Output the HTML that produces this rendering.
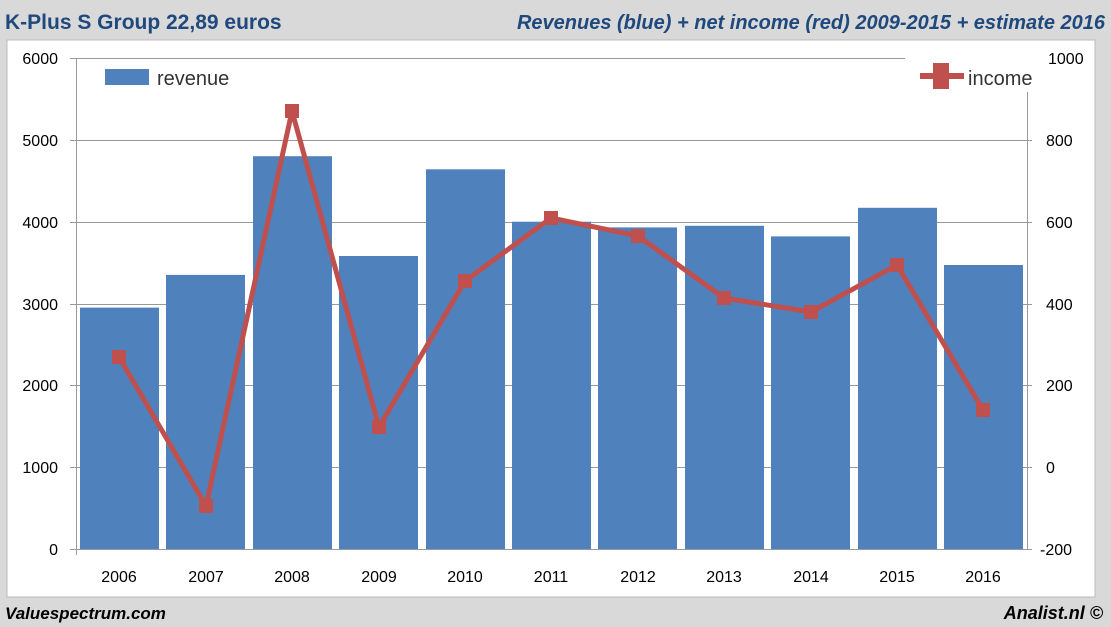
<!DOCTYPE html><html><head><style>body{margin:0;background:#d9d9d9;}svg{display:block}</style></head><body>
<svg width="1111" height="627" xmlns="http://www.w3.org/2000/svg" font-family="Liberation Sans, sans-serif">
<rect width="1111" height="627" fill="#d9d9d9"/>
<rect x="7" y="40" width="1088" height="557" fill="#fff" stroke="#bbb"/>
<text x="5" y="29" font-size="21" font-weight="bold" fill="#1f497d">K-Plus S Group 22,89 euros</text>
<text x="1105" y="29" font-size="20" font-weight="bold" font-style="italic" fill="#1f497d" text-anchor="end">Revenues (blue) + net income (red) 2009-2015 + estimate 2016</text>
<text x="5" y="619" font-size="17" font-weight="bold" font-style="italic" fill="#000">Valuespectrum.com</text>
<text x="1103" y="619" font-size="18" font-weight="bold" font-style="italic" fill="#000" text-anchor="end">Analist.nl ©</text>
<g stroke="#999" stroke-width="1">
<line x1="70" y1="58.5" x2="1032" y2="58.5"/><line x1="70" y1="140.5" x2="1032" y2="140.5"/><line x1="70" y1="222.5" x2="1032" y2="222.5"/><line x1="70" y1="304.5" x2="1032" y2="304.5"/><line x1="70" y1="385.5" x2="1032" y2="385.5"/><line x1="70" y1="467.5" x2="1032" y2="467.5"/><line x1="70" y1="549.5" x2="1032" y2="549.5"/>
<line x1="76.5" y1="58" x2="76.5" y2="555"/><line x1="1027.5" y1="58" x2="1027.5" y2="549"/>
</g>
<g fill="#4f81bd">
<rect x="80" y="307.6" width="79" height="241.4"/>
<rect x="166" y="274.9" width="79" height="274.1"/>
<rect x="253" y="156.2" width="79" height="392.8"/>
<rect x="339" y="256.0" width="79" height="293.0"/>
<rect x="426" y="169.3" width="79" height="379.7"/>
<rect x="512" y="221.7" width="79" height="327.3"/>
<rect x="598" y="227.4" width="79" height="321.6"/>
<rect x="685" y="225.8" width="79" height="323.2"/>
<rect x="771" y="236.4" width="79" height="312.6"/>
<rect x="858" y="207.8" width="79" height="341.2"/>
<rect x="944" y="265.0" width="79" height="284.0"/>
</g>
<polyline fill="none" stroke="#c0504d" stroke-width="5" stroke-linejoin="round" points="119,357 206,506 292,111 379,427 465,281 551,218 638,236 724,298 811,312 897,265 983,410"/>
<g fill="#c0504d">
<rect x="112" y="350" width="14" height="14"/><rect x="199" y="499" width="14" height="14"/><rect x="285" y="104" width="14" height="14"/><rect x="372" y="420" width="14" height="14"/><rect x="458" y="274" width="14" height="14"/><rect x="544" y="211" width="14" height="14"/><rect x="631" y="229" width="14" height="14"/><rect x="717" y="291" width="14" height="14"/><rect x="804" y="305" width="14" height="14"/><rect x="890" y="258" width="14" height="14"/><rect x="976" y="403" width="14" height="14"/>
</g>
<g font-size="16" fill="#000" text-anchor="end">
<text x="58" y="64">6000</text><text x="58" y="146">5000</text><text x="58" y="228">4000</text><text x="58" y="310">3000</text><text x="58" y="391">2000</text><text x="58" y="473">1000</text><text x="58" y="555">0</text>
</g>
<g font-size="16" fill="#000" text-anchor="start">
<text x="1048" y="64">1000</text><text x="1046" y="146">800</text><text x="1046" y="228">600</text><text x="1046" y="310">400</text><text x="1046" y="391">200</text><text x="1046" y="473">0</text><text x="1040" y="555">-200</text>
</g>
<g font-size="16" fill="#000" text-anchor="middle">
<text x="119" y="582">2006</text><text x="206" y="582">2007</text><text x="292" y="582">2008</text><text x="379" y="582">2009</text><text x="465" y="582">2010</text><text x="551" y="582">2011</text><text x="638" y="582">2012</text><text x="724" y="582">2013</text><text x="811" y="582">2014</text><text x="897" y="582">2015</text><text x="983" y="582">2016</text>
</g>
<rect x="905" y="56" width="130" height="40" fill="#fff"/>
<line x1="1027.5" y1="92" x2="1027.5" y2="140" stroke="#999"/>
<rect x="105" y="69" width="44" height="16" fill="#4f81bd"/>
<text x="157" y="85" font-size="20" fill="#333">revenue</text>
<line x1="920" y1="76" x2="964" y2="76" stroke="#c0504d" stroke-width="6"/>
<rect x="933" y="63" width="16" height="26" fill="#c0504d"/>
<text x="968" y="85" font-size="20" fill="#333">income</text>
</svg>
</body></html>
